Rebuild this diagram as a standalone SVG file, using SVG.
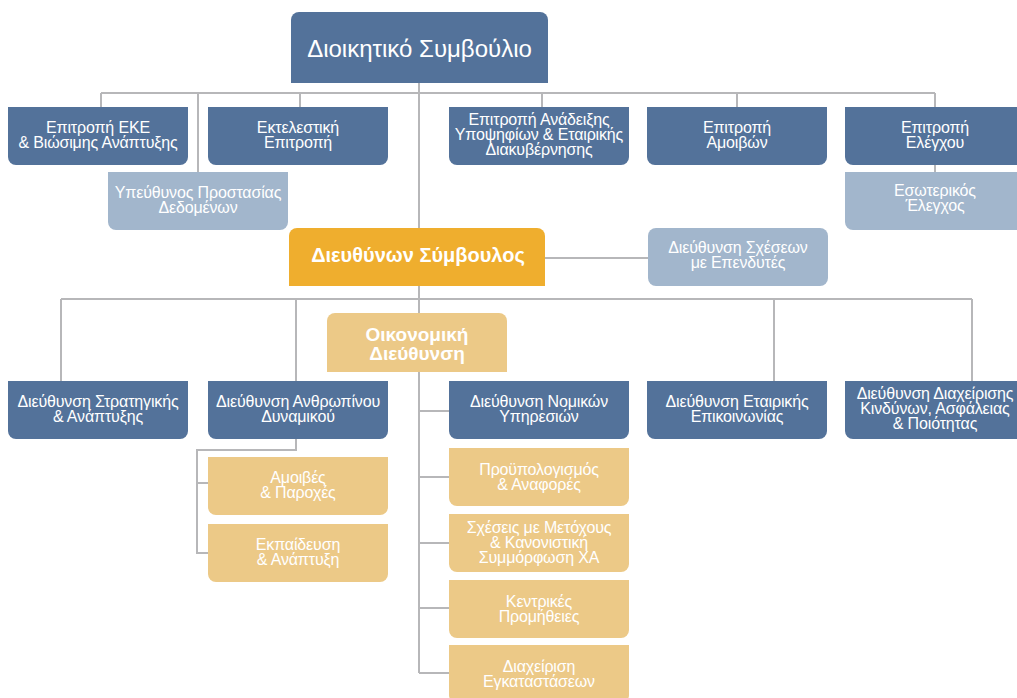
<svg xmlns="http://www.w3.org/2000/svg" width="1017" height="698" viewBox="0 0 1017 698">
<style>
.dk{fill:#53729a}
.lt{fill:#a2b6cc}
.or{fill:#efae2e}
.gd{fill:#ecc987}
.t{font-family:"Liberation Sans",Arial,sans-serif;font-size:16px;letter-spacing:-0.15px;fill:#fff;text-anchor:middle}
.tb{font-family:"Liberation Sans",Arial,sans-serif;font-weight:bold;fill:#fff;text-anchor:middle}
.c{fill:none;stroke:#b7b7b9;stroke-width:2}
</style>
<rect width="1017" height="698" fill="#fff"/>
<g id="connectors" class="c">
<path d="M101 93H935M101 93V107M198 93V172M300 93V107M542 93V107M737 93V107M935 93V107"/>
<path d="M419 83V673"/>
<path d="M935 165V172"/>
<path d="M545 258H648"/>
<path d="M61 299H972M61 299V381M296 299V381M774 299V381M972 299V381"/>
<path d="M419 411H449"/>
<path d="M296 439V450H197V553H208M197 483H208"/>
<path d="M419 477H449M419 543H449M419 608H449M419 673H449"/>
</g>
<g id="board">
<path class="dk" d="M291 83V20a8 8 0 0 1 8-8H540a8 8 0 0 1 8 8V83Z"/>
<text class="t" style="font-size:24px;letter-spacing:0" x="419.5" y="57">Διοικητικό Συμβούλιο</text>
</g>
<g id="esg">
<path class="dk" d="M8 107h180v50a8 8 0 0 1-8 8h-164a8 8 0 0 1-8-8z"/>
<text class="t" x="98" y="133">Επιτροπή ΕΚΕ</text><text class="t" x="98" y="148">&amp; Βιώσιμης Ανάπτυξης</text>
</g>
<g id="exec">
<path class="dk" d="M208 107h180v50a8 8 0 0 1-8 8h-164a8 8 0 0 1-8-8z"/>
<text class="t" x="298" y="133">Εκτελεστική</text><text class="t" x="298" y="148">Επιτροπή</text>
</g>
<g id="nomination">
<path class="dk" d="M449 107h180v50a8 8 0 0 1-8 8h-164a8 8 0 0 1-8-8z"/>
<text class="t" x="539" y="125">Επιτροπή Ανάδειξης</text><text class="t" x="539" y="140">Υποψηφίων &amp; Εταιρικής</text><text class="t" x="539" y="155">Διακυβέρνησης</text>
</g>
<g id="remuneration">
<path class="dk" d="M647 107h180v50a8 8 0 0 1-8 8h-164a8 8 0 0 1-8-8z"/>
<text class="t" x="737" y="133">Επιτροπή</text><text class="t" x="737" y="148">Αμοιβών</text>
</g>
<g id="audit">
<path class="dk" d="M845 107h180v50a8 8 0 0 1-8 8h-164a8 8 0 0 1-8-8z"/>
<text class="t" x="935" y="133">Επιτροπή</text><text class="t" x="935" y="148">Ελέγχου</text>
</g>
<g id="dpo">
<path class="lt" d="M108 172h180v50a8 8 0 0 1-8 8h-164a8 8 0 0 1-8-8z"/>
<text class="t" x="198" y="198">Υπεύθυνος Προστασίας</text><text class="t" x="198" y="213">Δεδομένων</text>
</g>
<g id="internal-audit">
<path class="lt" d="M845 172h180v50a8 8 0 0 1-8 8h-164a8 8 0 0 1-8-8z"/>
<text class="t" x="935" y="196">Εσωτερικός</text><text class="t" x="935" y="211">Έλεγχος</text>
</g>
<g id="ceo">
<path class="or" d="M289 286V236a8 8 0 0 1 8-8H537a8 8 0 0 1 8 8V286Z"/>
<text class="tb" style="font-size:20px" x="418" y="262">Διευθύνων Σύμβουλος</text>
</g>
<g id="ir">
<rect class="lt" x="648" y="228" width="180" height="58" rx="8"/>
<text class="t" x="738" y="253">Διεύθυνση Σχέσεων</text><text class="t" x="738" y="268">με Επενδυτές</text>
</g>
<g id="cfo">
<path class="gd" d="M327 372V321a8 8 0 0 1 8-8H499a8 8 0 0 1 8 8V372Z"/>
<text class="tb" style="font-size:19px" x="417" y="341">Οικονομική</text><text class="tb" style="font-size:19px" x="417" y="360">Διεύθυνση</text>
</g>
<g id="strategy">
<path class="dk" d="M8 381h180v50a8 8 0 0 1-8 8h-164a8 8 0 0 1-8-8z"/>
<text class="t" x="98" y="407">Διεύθυνση Στρατηγικής</text><text class="t" x="98" y="422">&amp; Ανάπτυξης</text>
</g>
<g id="hr">
<path class="dk" d="M208 381h180v50a8 8 0 0 1-8 8h-164a8 8 0 0 1-8-8z"/>
<text class="t" x="298" y="407">Διεύθυνση Ανθρωπίνου</text><text class="t" x="298" y="422">Δυναμικού</text>
</g>
<g id="legal">
<path class="dk" d="M449 381h180v50a8 8 0 0 1-8 8h-164a8 8 0 0 1-8-8z"/>
<text class="t" x="539" y="407">Διεύθυνση Νομικών</text><text class="t" x="539" y="422">Υπηρεσιών</text>
</g>
<g id="communication">
<path class="dk" d="M647 381h180v50a8 8 0 0 1-8 8h-164a8 8 0 0 1-8-8z"/>
<text class="t" x="737" y="407">Διεύθυνση Εταιρικής</text><text class="t" x="737" y="422">Επικοινωνίας</text>
</g>
<g id="risk">
<path class="dk" d="M845 381h180v50a8 8 0 0 1-8 8h-164a8 8 0 0 1-8-8z"/>
<text class="t" x="935" y="399">Διεύθυνση Διαχείρισης</text><text class="t" x="935" y="414">Κινδύνων, Ασφάλειας</text><text class="t" x="935" y="429">&amp; Ποιότητας</text>
</g>
<g id="compensation">
<path class="gd" d="M208 457h180v50a8 8 0 0 1-8 8h-164a8 8 0 0 1-8-8z"/>
<text class="t" x="298" y="483">Αμοιβές</text><text class="t" x="298" y="498">&amp; Παροχές</text>
</g>
<g id="training">
<path class="gd" d="M208 524h180v50a8 8 0 0 1-8 8h-164a8 8 0 0 1-8-8z"/>
<text class="t" x="298" y="550">Εκπαίδευση</text><text class="t" x="298" y="565">&amp; Ανάπτυξη</text>
</g>
<g id="budget">
<path class="gd" d="M449 448h180v50a8 8 0 0 1-8 8h-164a8 8 0 0 1-8-8z"/>
<text class="t" x="539" y="475">Προϋπολογισμός</text><text class="t" x="539" y="490">&amp; Αναφορές</text>
</g>
<g id="shareholders">
<path class="gd" d="M449 514h180v50a8 8 0 0 1-8 8h-164a8 8 0 0 1-8-8z"/>
<text class="t" x="539" y="533">Σχέσεις με Μετόχους</text><text class="t" x="539" y="548">&amp; Κανονιστική</text><text class="t" x="539" y="563">Συμμόρφωση ΧΑ</text>
</g>
<g id="procurement">
<path class="gd" d="M449 580h180v50a8 8 0 0 1-8 8h-164a8 8 0 0 1-8-8z"/>
<text class="t" x="539" y="607">Κεντρικές</text><text class="t" x="539" y="622">Προμήθειες</text>
</g>
<g id="facilities">
<path class="gd" d="M449 645h180v50a8 8 0 0 1-8 8h-164a8 8 0 0 1-8-8z"/>
<text class="t" x="539" y="672">Διαχείριση</text><text class="t" x="539" y="687">Εγκαταστάσεων</text>
</g>
</svg>
